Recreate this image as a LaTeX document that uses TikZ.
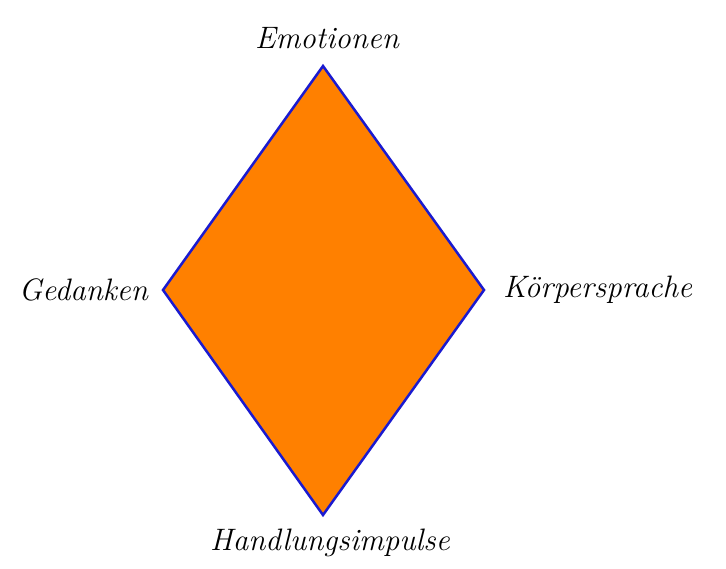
\documentclass[tikz,border=0pt]{standalone}
\usepackage{fontspec}
\setmainfont{Latin Modern Roman}
\definecolor{fillorange}{HTML}{FF8000}
\definecolor{edgeblue}{HTML}{1A1AD0}
\begin{document}
\begin{tikzpicture}[x=1pt,y=-1pt,
  lbl/.style={font=\fontsize{31}{36}\selectfont\itshape, inner sep=0pt}]
\useasboundingbox (0,0) rectangle (726,568);
\coordinate (T) at (323,66);
\coordinate (L) at (163,290);
\coordinate (R) at (484,290);
\coordinate (B) at (323,515);
\fill[fillorange] (T) -- (R) -- (B) -- (L) -- cycle;
\draw[edgeblue, line width=2.5pt, line join=miter] (T) -- (R) -- (B) -- (L) -- cycle;
\node[lbl] (emo) at (327,38) {Emotionen};
\node[lbl, anchor=east] (ged) at (148,290) {Gedanken};
\node[lbl, anchor=west] (koe) at (503,290) {Körpersprache};
\node[lbl] (han) at (330,543) {Handlungsimpulse};
\end{tikzpicture}
\end{document}
